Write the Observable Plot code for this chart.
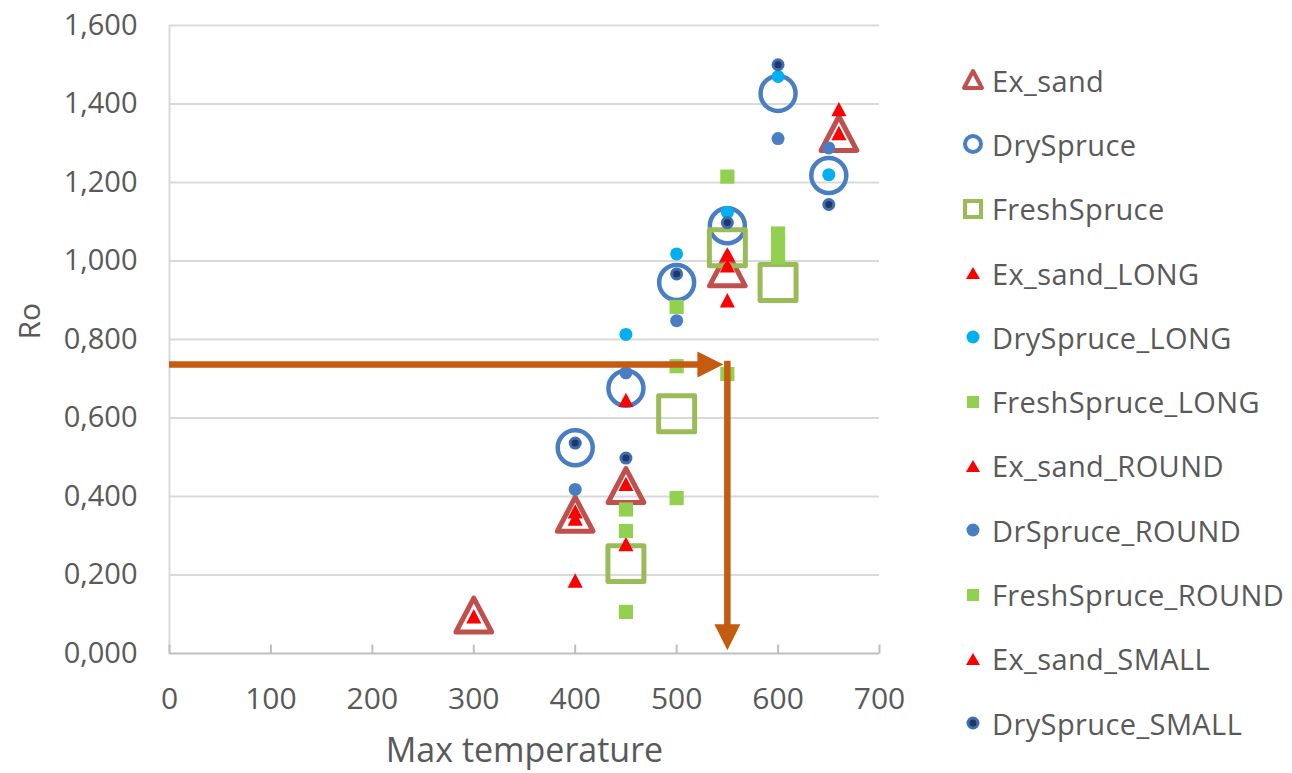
<!DOCTYPE html>
<html>
<head>
<meta charset="utf-8">
<script src="https://cdn.jsdelivr.net/npm/d3@7"></script>
<script src="https://cdn.jsdelivr.net/npm/@observablehq/plot@0.6"></script>
<style>
  body { margin: 0; background: #fff; font-family: "Open Sans", sans-serif; }
  #wrap { display: flex; width: 1292px; height: 773px; }
  #legend { padding-top: 48px; }
  .item { height: 64.3px; display: flex; align-items: center; font-size: 29px; letter-spacing: 0.4px; color: #595959; white-space: nowrap; }
  .item svg { width: 30px; height: 30px; margin-left: 28px; margin-right: 4px; flex: none; }
</style>
</head>
<body>
<div id="wrap"><div id="chart"></div><div id="legend"></div></div>
<script>
// ---- data (Max temperature, Ro) ----
const xTicks = [0, 100, 200, 300, 400, 500, 600, 700];
const yTicks = [0, 0.2, 0.4, 0.6, 0.8, 1.0, 1.2, 1.4, 1.6];

const exSand          = [[300, 0.098], [400, 0.355], [450, 0.428], [550, 0.98], [660, 1.325]];
const drySpruce       = [[400, 0.524], [450, 0.676], [500, 0.945], [550, 1.09], [600, 1.427], [650, 1.218]];
const freshSpruce     = [[450, 0.229], [500, 0.611], [550, 1.034], [600, 0.945]];
const exSandLong      = [[400, 0.344], [450, 0.646], [550, 1.017], [660, 1.387]];
const drySpruceLong   = [[450, 0.813], [500, 1.018], [550, 1.124], [600, 1.47], [650, 1.22]];
const freshSpruceLong = [[450, 0.106], [450, 0.367], [500, 0.732], [550, 1.215], [600, 1.07]];
const exSandRound     = [[300, 0.095], [400, 0.186], [450, 0.279], [550, 0.90]];
const drSpruceRound   = [[400, 0.418], [450, 0.715], [500, 0.848], [600, 1.312], [650, 1.288]];
const freshSpruceRound= [[450, 0.312], [500, 0.396], [500, 0.883], [550, 0.712], [600, 1.04], [600, 1.01]];
const exSandSmall     = [[400, 0.362], [450, 0.432], [550, 0.989], [660, 1.326]];
const drySpruceSmall  = [[400, 0.536], [450, 0.498], [500, 0.967], [550, 1.098], [600, 1.50], [650, 1.144]];

// annotation arrows: from Ro level across to a temperature, then down to the axis
const arrowStartT = [0];
const arrowTemp = [550];
const arrowRo = [0.736];
const arrowTipRo = [0.008];

const seriesNames = ["Ex_sand", "DrySpruce", "FreshSpruce", "Ex_sand_LONG", "DrySpruce_LONG",
  "FreshSpruce_LONG", "Ex_sand_ROUND", "DrSpruce_ROUND", "FreshSpruce_ROUND", "Ex_sand_SMALL", "DrySpruce_SMALL"];

// ---- styles ----
const C = {
  exSand: "#c0504d", drySpruce: "#4a7ec2", freshSpruce: "#9bbb59",
  red: "#ff0000", lightBlue: "#00b0f0", green: "#92d050", blue: "#4a7ec2",
  navy: "#1f3864", navyRing: "#3f6db5", orange: "#c55a11",
  grid: "#d9d9d9", axis: "#bfbfbf", text: "#595959"
};

// Excel-like triangle centred on its bounding box
const tri = {
  draw(ctx, size) {
    const s = Math.sqrt(size) * 1.55, h = s * 0.95;
    ctx.moveTo(0, -h / 2); ctx.lineTo(s / 2, h / 2); ctx.lineTo(-s / 2, h / 2); ctx.closePath();
  }
};
const tickUp = { draw(ctx) { ctx.moveTo(0, 0); ctx.lineTo(0, -9); } };
const headRight = { draw(ctx) { ctx.moveTo(0, 0); ctx.lineTo(-26, -13); ctx.lineTo(-26, 13); ctx.closePath(); } };
const headDown = { draw(ctx) { ctx.moveTo(0, 0); ctx.lineTo(-13, -26); ctx.lineTo(13, -26); ctx.closePath(); } };

const rows = (pairs) => pairs.map(([t, ro]) => ({ t, ro }));
const fmtYLabel = (d) => {
  const v = Math.round(d * 1000); // 1.6 -> "1,600"
  return (v >= 1000 ? Math.floor(v / 1000) + "," + String(v % 1000).padStart(3, "0") : "0," + String(v).padStart(3, "0"));
};

const dots = (data, o) => Plot.dot(rows(data), { x: "t", y: "ro", ...o });

const plot = Plot.plot({
  width: 930,
  height: 773,
  marginLeft: 169,
  marginRight: 51,
  marginTop: 25,
  marginBottom: 120,
  style: { fontFamily: "Open Sans, sans-serif", color: C.text, background: "#fff" },
  x: { domain: [0, 700] },
  y: { domain: [0, 1.6] },
  marks: [
    Plot.ruleY(yTicks.filter((d) => d > 0), { stroke: C.grid, strokeWidth: 2 }),
    Plot.ruleX([0], { stroke: C.grid, strokeWidth: 2 }),
    Plot.ruleY([0], { stroke: C.axis, strokeWidth: 2 }),
    Plot.dot(xTicks, { x: (d) => d, frameAnchor: "bottom", symbol: tickUp, fill: "none", stroke: C.axis, strokeWidth: 2 }),
    Plot.axisY({ ticks: yTicks, tickFormat: fmtYLabel, tickSize: 0, tickPadding: 32, fontSize: 29, label: null }),
    Plot.axisX({ ticks: xTicks, tickFormat: (d) => String(d), tickSize: 0, tickPadding: 34, fontSize: 30, label: null }),
    Plot.text(["Ro"], { frameAnchor: "left", dx: -139, rotate: -90, fontSize: 30, fill: C.text }),
    Plot.text(["Max temperature"], { frameAnchor: "bottom", dy: 108, fontSize: 34, fill: C.text }),

    // large hollow markers
    dots(exSand, { symbol: tri, r: 13, fill: "none", stroke: C.exSand, strokeWidth: 5, strokeLinejoin: "round" }),
    dots(drySpruce, { symbol: "circle", r: 17.5, fill: "none", stroke: C.drySpruce, strokeWidth: 4.5 }),
    dots(freshSpruce, { symbol: "square", r: 20.3, fill: "none", stroke: C.freshSpruce, strokeWidth: 5, strokeLinejoin: "round" }),

    // small filled markers
    dots(exSandLong, { symbol: tri, r: 5.5, fill: C.red, stroke: "none" }),
    dots(drySpruceLong, { symbol: "circle", r: 6.5, fill: C.lightBlue, stroke: "none" }),
    dots(freshSpruceLong, { symbol: "square", r: 8, fill: C.green, stroke: "none" }),
    dots(exSandRound, { symbol: tri, r: 5.5, fill: C.red, stroke: "none" }),
    dots(drSpruceRound, { symbol: "circle", r: 6.5, fill: C.blue, stroke: "none" }),
    dots(freshSpruceRound, { symbol: "square", r: 8, fill: C.green, stroke: "none" }),
    dots(exSandSmall, { symbol: tri, r: 5.5, fill: C.red, stroke: "none" }),
    dots(drySpruceSmall, { symbol: "circle", r: 5, fill: C.navy, stroke: C.navyRing, strokeWidth: 3 }),

    // orange arrows
    Plot.ruleY(arrowRo, { y: (d) => d, x1: arrowStartT[0], x2: arrowTemp[0], insetRight: 28, stroke: C.orange, strokeWidth: 6.5 }),
    Plot.dot(arrowRo, { y: (d) => d, x: arrowTemp[0], dx: -4, symbol: headRight, fill: C.orange, stroke: "none" }),
    Plot.ruleX(arrowTemp, { x: (d) => d, y1: arrowRo[0], y2: arrowTipRo[0], insetTop: -3.25, insetBottom: 24, stroke: C.orange, strokeWidth: 6.5 }),
    Plot.dot(arrowTemp, { x: (d) => d, y: arrowTipRo[0], symbol: headDown, fill: C.orange, stroke: "none" })
  ]
});
document.getElementById("chart").appendChild(plot);

// ---- legend ----
const legendIcons = [
  `<path d="M15,6 L24,23 L6,23 Z" fill="none" stroke="${C.exSand}" stroke-width="4" stroke-linejoin="round"/>`,
  `<circle cx="15" cy="15" r="8" fill="none" stroke="${C.drySpruce}" stroke-width="4"/>`,
  `<rect x="7" y="7" width="16" height="16" fill="none" stroke="${C.freshSpruce}" stroke-width="4"/>`,
  `<path d="M15,9 L22,21 L8,21 Z" fill="${C.red}"/>`,
  `<circle cx="15" cy="15" r="6.5" fill="${C.lightBlue}"/>`,
  `<rect x="9" y="9" width="12" height="12" fill="${C.green}"/>`,
  `<path d="M15,9 L22,21 L8,21 Z" fill="${C.red}"/>`,
  `<circle cx="15" cy="15" r="6.5" fill="${C.blue}"/>`,
  `<rect x="9" y="9" width="12" height="12" fill="${C.green}"/>`,
  `<path d="M15,9 L22,21 L8,21 Z" fill="${C.red}"/>`,
  `<circle cx="15" cy="15" r="5" fill="${C.navy}" stroke="${C.navyRing}" stroke-width="3"/>`
];
const legend = document.getElementById("legend");
seriesNames.forEach((name, i) => {
  const div = document.createElement("div");
  div.className = "item";
  div.innerHTML = `<svg viewBox="0 0 30 30">${legendIcons[i]}</svg><span>${name}</span>`;
  legend.appendChild(div);
});
</script>
</body>
</html>
